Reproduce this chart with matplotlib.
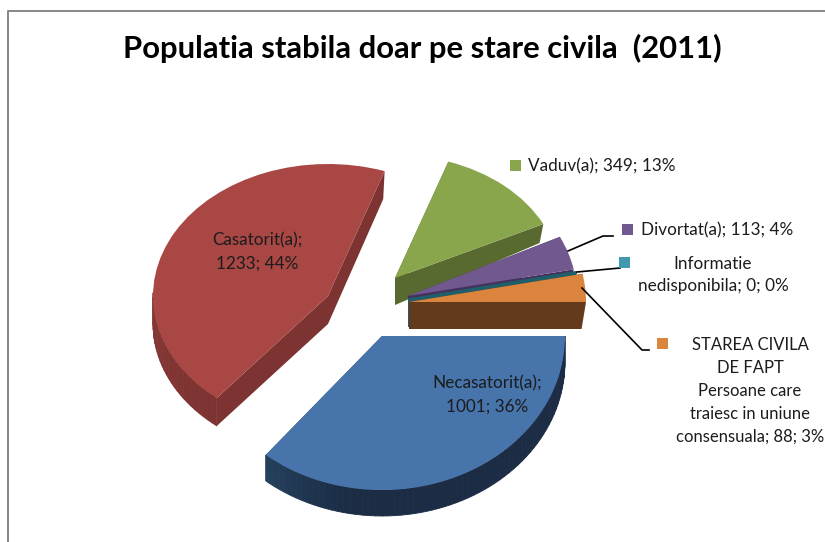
import matplotlib
matplotlib.use("Agg")
import matplotlib.pyplot as plt
import numpy as np
from matplotlib.patches import Polygon, Rectangle
from matplotlib.transforms import Affine2D
from matplotlib.colors import to_rgb

plt.rcParams['font.family'] = ['Lato', 'DejaVu Sans']

title = "Populatia stabila doar pe stare civila  (2011)"
categories = ["Necasatorit(a)", "Casatorit(a)", "Vaduv(a)", "Divortat(a)",
              "Informatie\nnedisponibila",
              "STAREA CIVILA\nDE FAPT\nPersoane care\ntraiesc in uniune\nconsensuala"]
values = [1001, 1233, 349, 113, 0, 88]

colors = ['#4674AB', '#A94744', '#8AA64D', '#71588F', '#4198AF', '#DB843D']
side_colors = ['#1B2C44', '#7C3331', '#586A30', '#44315C', '#1F5F6B', '#633A1C']
side_light = ['#315779', '#863836', '#586A30', '#44315C', '#1F5F6B', '#633A1C']

# each slice has its own ellipse because of the perspective: cx, cy, rx, ry, depth
geom = [(382, 336, 183, 154, 26),
        (328, 296, 175, 132, 28),
        (395, 278, 165, 123, 27),
        (408, 296, 169, 135, 27),
        (408, 300, 172, 140, 27),
        (409, 302, 177, 143, 27)]
# depth at the far end of the cut faces, as a share of the depth
far_depth = [1.0, 1.0, 0.7, 1.0, 1.0, 1.0]
draw_order = [1, 2, 3, 4, 5, 0]

total = sum(values)


def label(i):
    pct = int(round(values[i] * 100.0 / total))
    return "{}; {}; {}%".format(categories[i], values[i], pct)


def mix(c1, c2, f):
    a = np.array(to_rgb(c1))
    b = np.array(to_rgb(c2))
    return tuple(a + (b - a) * f)


fig = plt.figure(figsize=(8.25, 5.42), dpi=100)
ax = fig.add_axes([0, 0, 1, 1])

wedges, _ = ax.pie(values, colors=colors, startangle=0, counterclock=True,
                   wedgeprops={'linewidth': 0})

z = 2
for i in draw_order:
    w = wedges[i]
    cx, cy, rx, ry, depth = geom[i]
    t1, t2 = w.theta1, w.theta2

    def pt(t, dy=0.0):
        a = np.radians(t)
        return (cx + rx * np.cos(a), cy + ry * np.sin(a) + dy)

    # flat cut faces, on the right the bottom edge is a bit shorter
    for t in (t1, t2):
        x, y = pt(t)
        x2 = x - 0.025 * (x - cx) if x > cx else x
        ax.add_patch(Polygon([(cx, cy), (x, y), (x2, y + depth * far_depth[i]), (cx, cy + depth)],
                             closed=True, fc=side_colors[i], ec='none', zorder=z))
    z += 1

    # outer rim, small steps so it can shade toward the left
    steps = np.arange(t1, t2, 2.0)
    for a in steps:
        b = min(a + 2.0, t2)
        if np.sin(np.radians(a)) < -0.02:
            continue
        f = np.clip((a - 100) / 60.0, 0, 1) if i == 0 else np.clip((a - 130) / 50.0, 0, 1)
        c = mix(side_colors[i], side_light[i], f)
        ax.add_patch(Polygon([pt(a), pt(b), pt(b, depth), pt(a, depth)], closed=True,
                             fc=c, ec=c, lw=0.6, zorder=z))
    z += 1

    w.set_transform(Affine2D().scale(rx, ry).translate(cx, cy) + ax.transData)
    w.set_zorder(z)
    z += 1

# the zero slice only shows as a thin line
x0, y0, rx0, ry0, _d = geom[4]
a0 = np.radians(wedges[4].theta1)
ax.plot([x0, x0 + rx0 * np.cos(a0)], [y0, y0 + ry0 * np.sin(a0)],
        color=side_colors[4], lw=2.2, solid_capstyle='butt', zorder=z - 4)

ax.set_xlim(0, 825)
ax.set_ylim(542, 0)
ax.set_aspect('auto')
ax.axis('off')

# chart frame
ax.plot([8, 8, 825], [542, 11, 11], color='#868686', lw=1.4, zorder=1)

ax.text(422.5, 48, title, fontsize=22.3, fontweight='bold', color='black',
        ha='center', va='center', zorder=50)

txt = '#1c1c1c'
fs = 12.3
ls = 1.5
ax.text(257, 252, "Casatorit(a);\n1233; 44%", fontsize=fs, color=txt,
        ha='center', va='center', linespacing=ls, zorder=50)
ax.text(487, 395, "Necasatorit(a);\n1001; 36%", fontsize=fs, color=txt, ha='center',
        va='center', linespacing=ls, zorder=50)
ax.text(528, 166, label(2), fontsize=fs, color=txt, ha='left', va='center', zorder=50)
ax.text(641, 230, label(3), fontsize=fs, color=txt, ha='left', va='center', zorder=50)
ax.text(713, 275, label(4), fontsize=fs, color=txt, ha='center', va='center',
        linespacing=ls, zorder=50)
ax.text(750, 391, label(5), fontsize=12.0, color=txt, ha='center', va='center',
        linespacing=1.54, zorder=50)

# legend keys next to outside labels
for i, (kx, ky) in zip([2, 3, 4, 5], [(510, 160), (622, 224), (619, 257), (657, 338)]):
    ax.add_patch(Rectangle((kx, ky), 11, 11, fc=colors[i], ec='none', zorder=50))

# leader lines
ax.plot([568, 603, 613], [251, 236, 236], color='black', lw=1.2, zorder=40)
ax.plot([577, 620], [272, 268], color='black', lw=1.2, zorder=40)
ax.plot([582, 642, 649], [288, 350, 350], color='black', lw=1.2, zorder=40)

plt.savefig('out.png', dpi=100)
